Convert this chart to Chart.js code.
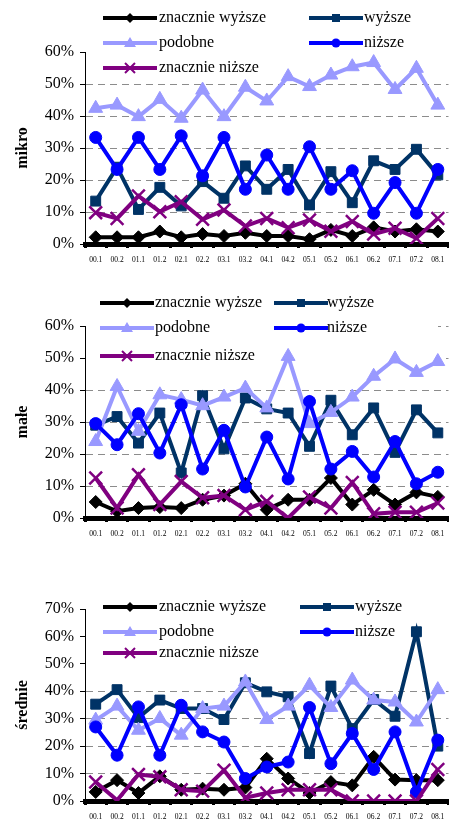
<!DOCTYPE html>
<html><head><meta charset="utf-8">
<script src="https://cdn.jsdelivr.net/npm/chart.js@4"></script>
<style>
html,body{margin:0;padding:0;background:#fff;overflow:hidden;width:449px;height:819px;}
#wrap{position:relative;width:449px;height:819px;overflow:hidden;background:#fff;}
.pane{position:absolute;left:0;}
.pane canvas{display:block;}
.leg{position:absolute;font-family:"Liberation Serif","Times New Roman",serif;font-size:16px;color:#000;white-space:nowrap;line-height:20px;height:20px;}
svg.sym{position:absolute;overflow:visible;}
</style></head><body>
<div id="wrap">
  <div class="pane" style="top:0;width:460px;height:264px"><canvas id="c1" width="460" height="264"></canvas></div>
  <div class="pane" style="top:270px;width:460px;height:268px"><canvas id="c2" width="460" height="268"></canvas></div>
  <div class="pane" style="top:560px;width:460px;height:259px"><canvas id="c3" width="460" height="259"></canvas></div>
</div>
<script>
// ---- data ----
const categories = ['00.1','00.2','01.1','01.2','02.1','02.2','03.1','03.2','04.1','04.2','05.1','05.2','06.1','06.2','07.1','07.2','08.1'];
const seriesNames = ['znacznie wyższe','wyższe','podobne','niższe','znacznie niższe'];
const panelTitles = ['mikro','małe','średnie'];

const mikroZnWyzsze = [2.1,2.1,2.1,3.9,2.1,3.1,2.5,3.5,2.5,2.5,1.5,4.4,2.5,5.2,3.9,4.6,3.9];
const mikroWyzsze   = [13.4,24.0,10.8,17.7,11.9,19.5,14.3,24.4,17.1,23.3,12.2,22.6,12.9,26.0,23.3,29.6,21.6];
const mikroPodobne  = [42.4,43.4,39.8,45.2,39.3,48.1,39.8,49.0,44.7,52.3,49.2,52.8,55.4,56.7,48.3,54.9,43.4];
const mikroNizsze   = [33.3,23.3,33.3,23.3,33.8,21.3,33.3,17.1,27.8,17.1,30.4,17.1,22.9,9.6,19.2,9.6,23.3];
const mikroZnNizsze = [9.8,8.0,15.0,10.1,13.2,7.7,10.6,5.6,8.0,5.1,7.5,4.0,7.0,3.1,4.9,1.8,8.0];

const maleZnWyzsze = [5.0,2.1,3.1,3.4,3.1,5.7,7.0,10.7,2.6,5.7,5.7,12.5,4.2,8.8,4.2,8.0,6.6];
const maleWyzsze   = [29.0,31.7,23.4,32.8,14.1,38.2,21.6,37.5,34.1,32.8,22.4,36.8,26.0,34.4,20.5,33.8,26.6];
const malePodobne  = [23.9,41.1,27.1,38.5,37.0,35.1,37.8,40.6,34.4,50.5,29.5,33.0,37.8,44.3,49.7,45.5,48.9];
const maleNizsze   = [29.5,22.9,32.6,20.3,35.4,15.3,27.4,9.7,25.3,12.2,36.4,15.3,20.8,12.8,23.9,10.7,14.3];
const maleZnNizsze = [12.5,3.1,13.5,4.2,11.4,6.3,7.0,2.6,5.2,0.0,6.6,3.1,11.1,1.3,1.8,1.8,4.7];

const srednieZnWyzsze = [3.3,7.6,2.9,9.0,4.1,4.5,4.1,4.9,15.4,8.2,2.9,6.9,5.7,16.1,7.8,7.6,7.6];
const srednieWyzsze   = [35.3,40.6,30.4,36.8,33.7,33.7,29.7,43.1,39.8,38.0,17.3,41.9,26.4,37.0,30.9,61.7,20.0];
const sredniePodobne  = [29.5,34.6,25.8,30.1,24.0,33.7,34.6,43.4,29.7,34.6,42.2,34.1,44.1,36.8,36.1,28.8,40.6];
const srednieNizsze   = [27.0,16.7,34.3,16.7,34.9,25.2,21.5,8.2,12.4,14.2,34.1,13.6,24.6,11.5,25.2,3.3,22.2];
const srednieZnNizsze = [6.9,0.3,9.7,8.8,4.1,3.6,11.2,1.2,2.9,4.1,4.1,4.1,0.0,0.0,0.0,0.0,11.5];

const yMaxes = [60, 60, 70];

// ---- styles ----
const colors = ['#000000','#003366','#9999FF','#0000FF','#800080'];
const pStyles = ['rectRot','rect','triangle','circle','crossRot'];
const pRadius = [6.5,7,8,6,9];
const pBorder = [1,1,1,1,2.5];
const drawOrder = [5,4,3,2,1];
const FONT = '"Liberation Serif","Times New Roman",serif';

const legendCover = {
  id:'legendCover',
  beforeDatasetsDraw(chart, args, opts){
    const {ctx, chartArea, scales} = chart;
    const bottom = scales.y.getPixelForValue(opts.toValue);
    const right = opts.right || chart.width;
    ctx.save();
    ctx.fillStyle = '#fff';
    ctx.fillRect(chartArea.left + 1, 0, right - chartArea.left - 1, bottom);
    ctx.restore();
  }
};

function makeChart(id, series, yMax, title, padTop, xH, coverTo, coverRight){
  const datasets = series.map((d,i)=>({
    label: seriesNames[i], data: d,
    borderColor: colors[i], backgroundColor: colors[i],
    pointBackgroundColor: colors[i], pointBorderColor: colors[i],
    pointStyle: pStyles[i], pointRadius: pRadius[i], pointHoverRadius: pRadius[i],
    pointBorderWidth: pBorder[i], borderWidth: 4, tension: 0, fill: false,
    order: drawOrder[i]
  }));
  return new Chart(document.getElementById(id), {
    type:'line',
    data:{labels: categories, datasets},
    plugins:[legendCover],
    options:{
      responsive:false, animation:false, devicePixelRatio:1,
      layout:{padding:{top:padTop,left:0,right:1.5,bottom:0}},
      plugins:{legend:{display:false}, tooltip:{enabled:false}, legendCover:{toValue:coverTo, right:coverRight}},
      scales:{
        x:{
          type:'category', offset:true,
          grid:{display:true, drawOnChartArea:false, drawTicks:true, tickLength:4, tickWidth:3, tickColor:'#000', offset:true},
          border:{display:true, color:'#000', width:5},
          ticks:{autoSkip:false, maxRotation:0, minRotation:0, padding:8, color:'#000', font:{family:FONT, size:7.5}},
          afterFit(s){ s.height = xH; s.paddingLeft = 0; s.paddingRight = 0; }
        },
        y:{
          min:0, max:yMax,
          ticks:{stepSize:10, padding:6, color:'#000', font:{family:FONT, size:16}, callback:v=>v+'%'},
          grid:{color:'#8c8c8c', lineWidth:1, drawTicks:true, tickLength:5, tickColor:'#000', tickWidth:1, tickBorderDash:[]},
          border:{display:true, color:'#000', width:1, dash:[7,5]},
          title:{display:true, text:title, color:'#000', font:{family:FONT, size:16, weight:'bold'}, padding:{top:13,bottom:0}},
          afterFit(s){ s.width = 85; }
        }
      }
    }
  });
}

makeChart('c1', [mikroZnWyzsze,mikroWyzsze,mikroPodobne,mikroNizsze,mikroZnNizsze], yMaxes[0], panelTitles[0], 52, 20, 55, 0);
makeChart('c2', [maleZnWyzsze,maleWyzsze,malePodobne,maleNizsze,maleZnNizsze], yMaxes[1], panelTitles[1], 56, 20, 45, 438);
makeChart('c3', [srednieZnWyzsze,srednieWyzsze,sredniePodobne,srednieNizsze,srednieZnNizsze], yMaxes[2], panelTitles[2], 49, 18, 45, 0);

// ---- HTML legends ----
const legendLayout = [
  {rows:[18,43,68], cols:[[103,159],[309,364]]},
  {rows:[303,328,356], cols:[[100,155],[274,327]]},
  {rows:[607,632,653], cols:[[103,159],[300,355]]}
];
const slot = [[0,0],[0,1],[1,0],[1,1],[2,0]];
function symbolSvg(i){
  const c = colors[i], cx = 27, cy = 7;
  let m = '';
  if (i===0) m = `<polygon points="${cx},${cy-5} ${cx+5},${cy} ${cx},${cy+5} ${cx-5},${cy}" fill="${c}"/>`;
  if (i===1) m = `<rect x="${cx-4}" y="${cy-4}" width="8" height="8" fill="${c}"/>`;
  if (i===2) m = `<polygon points="${cx},${cy-6} ${cx+6},${cy+4} ${cx-6},${cy+4}" fill="${c}"/>`;
  if (i===3) m = `<circle cx="${cx}" cy="${cy}" r="4.5" fill="${c}"/>`;
  if (i===4) m = `<path d="M${cx-5} ${cy-5}L${cx+5} ${cy+5}M${cx+5} ${cy-5}L${cx-5} ${cy+5}" stroke="${c}" stroke-width="2"/>`;
  return `<line x1="0" y1="${cy}" x2="54" y2="${cy}" stroke="${c}" stroke-width="4"/>` + m;
}
const wrap = document.getElementById('wrap');
legendLayout.forEach(L=>{
  seriesNames.forEach((name,i)=>{
    const [r,cI] = slot[i];
    const y = L.rows[r], [lx, tx] = L.cols[cI];
    const svg = document.createElementNS('http://www.w3.org/2000/svg','svg');
    svg.setAttribute('class','sym');
    svg.setAttribute('width','54'); svg.setAttribute('height','14');
    svg.style.left = lx+'px'; svg.style.top = (y-7)+'px';
    svg.innerHTML = symbolSvg(i);
    wrap.appendChild(svg);
    const d = document.createElement('div');
    d.className = 'leg';
    d.style.left = tx+'px'; d.style.top = (y-11)+'px';
    d.textContent = name;
    wrap.appendChild(d);
  });
});
</script>
</body></html>
